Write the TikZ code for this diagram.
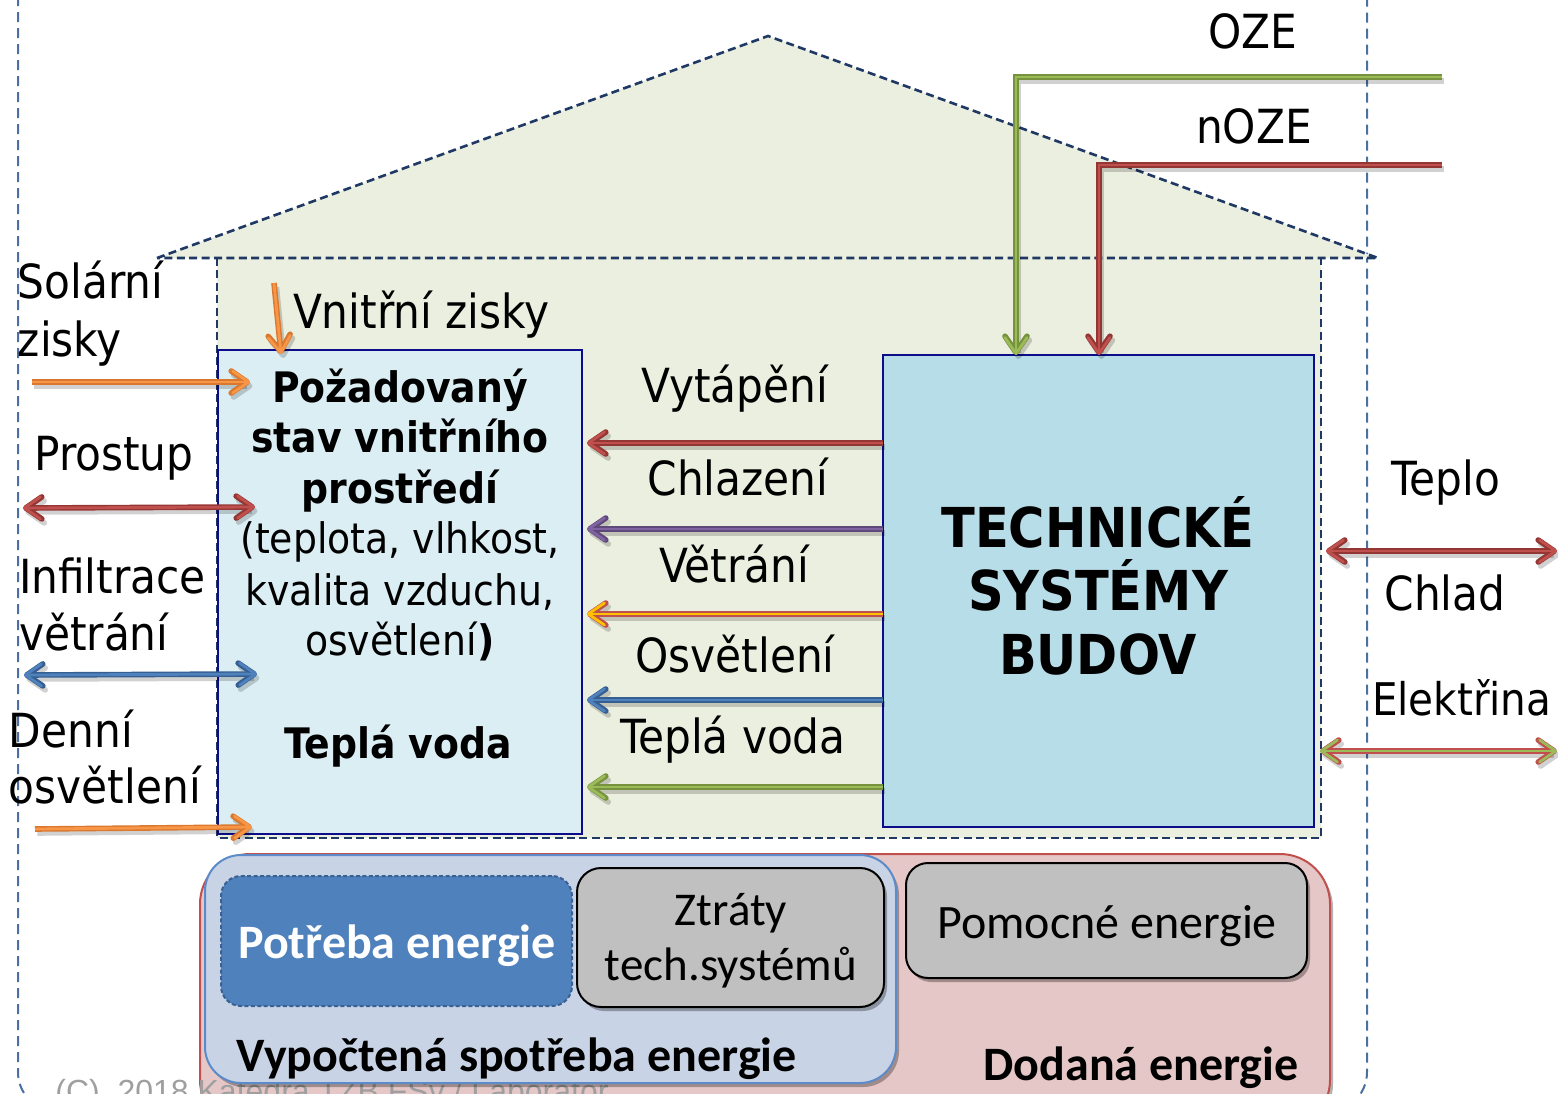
\documentclass[tikz,border=0pt]{standalone}
\usepackage{fontspec}
\setmainfont{DejaVu Sans Condensed}
\newfontfamily\calfont{Carlito}
\newfontfamily\arialfont{Liberation Sans}
\usetikzlibrary{arrows.meta,shadows}

\definecolor{housefill}{HTML}{EBEFDF}
\definecolor{navy}{HTML}{1F3864}
\definecolor{frameblue}{HTML}{4A6FA0}
\definecolor{roomfill}{HTML}{DBEEF4}
\definecolor{roomedge}{HTML}{0D0D8C}
\definecolor{tsbfill}{HTML}{B7DDE8}
\definecolor{cred}{HTML}{C0504D}
\definecolor{credD}{HTML}{943634}
\definecolor{cgreen}{HTML}{9BBB59}
\definecolor{cgreenD}{HTML}{76923C}
\definecolor{cblue}{HTML}{4F81BD}
\definecolor{cblueD}{HTML}{365F91}
\definecolor{cpurple}{HTML}{8064A2}
\definecolor{cpurpleD}{HTML}{5F497A}
\definecolor{corange}{HTML}{F79646}
\definecolor{corangeD}{HTML}{D9782E}
\definecolor{cyellow}{HTML}{FFC000}
\definecolor{calcfill}{HTML}{C9D3E6}
\definecolor{calcedge}{HTML}{5B8BC9}
\definecolor{delfill}{HTML}{E6C7C7}
\definecolor{boxgray}{HTML}{C0C0C0}
\definecolor{needfill}{HTML}{4F81BD}
\definecolor{neededge}{HTML}{3A6192}

% a thick energy-flow arrow: fill colour, edge colour, tips, path
\newcommand\flowpath[4]{%
  \draw[flowshadow,#3] #4;
  \draw[line width=2.8pt,draw=#2,#3] #4;
  \draw[line width=1.4pt,draw=#1,#3] #4;
}

\tikzset{
  flowshadow/.style={line width=2.8pt, draw=black, opacity=0.18,
    transform canvas={xshift=1.2pt,yshift=-2pt}},
  lab/.style={font=\fontsize{23.5pt}{28pt}\selectfont, inner sep=0pt, outer sep=0pt},
  roomtxt/.style={font=\fontsize{21pt}{25pt}\selectfont, inner sep=0pt, anchor=base},
  roombold/.style={font=\bfseries\fontsize{21pt}{25pt}\selectfont, inner sep=0pt, anchor=base},
  tsbtxt/.style={font=\bfseries\fontsize{27.5pt}{32pt}\selectfont, inner sep=0pt, anchor=base},
  box/.style={inner sep=0pt, outer sep=0pt},
  softshadow/.style={drop shadow={shadow xshift=1.5pt, shadow yshift=-2pt, opacity=0.3, fill=black}},
  grayblock/.style={box, fill=boxgray, draw=black, line width=1pt, softshadow,
    font=\calfont\fontsize{23.5pt}{28pt}\selectfont, align=center},
}

\begin{document}
\begin{tikzpicture}[x=0.5pt,y=-0.5pt,
  >={Straight Barb[length=8pt,width=11pt,round]}]
\useasboundingbox (0,0) rectangle (1558,1093);
\clip (0,0) rectangle (1558,1093);

% outer dashed frame
\draw[frameblue, line width=1pt, dash pattern=on 5pt off 3pt, rounded corners=20pt]
  (18,-60) rectangle (1367,1112);

% house: roof and body
\fill[housefill] (157,258) -- (768,36) -- (1378,258) -- cycle;
\fill[housefill] (217,258) rectangle (1321,838);
\draw[navy, line width=1.3pt, dash pattern=on 4pt off 2.2pt]
  (157,258) -- (768,36) -- (1378,258) -- cycle;
\draw[navy, line width=1.3pt, dash pattern=on 4pt off 2.2pt]
  (217,258) -- (217,838) -- (1321,838) -- (1321,258);

% room and technical systems boxes
\node[box, fill=roomfill, draw=roomedge, line width=1pt,
  minimum width=182pt, minimum height=242pt] (room) at (400,592) {};
\node[box, fill=tsbfill, draw=roomedge, line width=1pt,
  minimum width=215.5pt, minimum height=236pt] (tsb) at (1098.5,591) {};

% room text
\node[roombold] (r1) at (400,402) {Požadovaný};
\node[roombold] (r2) at (400,452) {stav vnitřního};
\node[roombold] (r3) at (400,503) {prostředí};
\node[roomtxt] (r4) at (400,553) {(teplota, vlhkost,};
\node[roomtxt] (r5) at (400,605) {kvalita vzduchu,};
\node[roomtxt] (r6) at (400,655) {osvětlení\textbf{)}};
\node[roombold] (r7) at (398,758) {Teplá voda};

% technical systems text
\node[tsbtxt] (t1) at (1098,547) {TECHNICKÉ};
\node[tsbtxt] (t2) at (1098,610) {SYSTÉMY};
\node[tsbtxt] (t3) at (1098,674) {BUDOV};

% flow end points
\coordinate (h1s) at (883,443); \coordinate (h1e) at (587,443);
\coordinate (h2s) at (883,529); \coordinate (h2e) at (587,529);
\coordinate (h3s) at (883,614); \coordinate (h3e) at (587,614);
\coordinate (h4s) at (883,700); \coordinate (h4e) at (587,700);
\coordinate (h5s) at (883,787); \coordinate (h5e) at (587,787);
\coordinate (sol) at (32,382);   \coordinate (sole) at (250,382);
\coordinate (vz) at (274,283);   \coordinate (vze) at (281,354);
\coordinate (pr) at (23,508);    \coordinate (pre) at (255,507);
\coordinate (inf) at (24,675);   \coordinate (infe) at (257,674);
\coordinate (dn) at (35,829);    \coordinate (dne) at (252,827);
\coordinate (tc) at (1326,551);  \coordinate (tce) at (1557,551);
\coordinate (el) at (1320,751);  \coordinate (ele) at (1557,751);
\coordinate (oze) at (1442,77);  \coordinate (ozee) at (1016,355);
\coordinate (noze) at (1442,165);\coordinate (nozee) at (1099,355);

% flows from the technical systems into the room
\flowpath{cred}{credD}{->}{(h1s) -- (h1e)}
\flowpath{cpurple}{cpurpleD}{->}{(h2s) -- (h2e)}
\flowpath{cyellow}{cred}{->}{(h3s) -- (h3e)}
\flowpath{cblue}{cblueD}{->}{(h4s) -- (h4e)}
\flowpath{cgreen}{cgreenD}{->}{(h5s) -- (h5e)}

% flows across the envelope
\flowpath{corange}{corangeD}{->}{(sol) -- (sole)}
\flowpath{corange}{corangeD}{->}{(vz) -- (vze)}
\flowpath{cred}{credD}{<->}{(pr) -- (pre)}
\flowpath{cblue}{cblueD}{<->}{(inf) -- (infe)}
\flowpath{corange}{corangeD}{->}{(dn) -- (dne)}
\flowpath{cred}{credD}{<->}{(tc) -- (tce)}
\flowpath{cgreen}{cred}{<->}{(el) -- (ele)}

% supplied energy carriers
\flowpath{cgreen}{cgreenD}{->}{(oze) -| (ozee)}
\flowpath{cred}{credD}{->}{(noze) -| (nozee)}

% labels
\node[lab, anchor=base] (lOZE) at (1253,48) {OZE};
\node[lab, anchor=base] (lnOZE) at (1254,143) {nOZE};
\node[lab, anchor=base west] (lsol1) at (18,298) {Solární};
\node[lab, anchor=base west] (lsol2) at (18,356) {zisky};
\node[lab, anchor=base west] (lvz) at (293,328) {Vnitřní zisky};
\node[lab, anchor=base] (lpr) at (114,470) {Prostup};
\node[lab, anchor=base west] (linf1) at (19,593) {Infiltrace};
\node[lab, anchor=base west] (linf2) at (19,650) {větrání};
\node[lab, anchor=base west] (ldn1) at (9,747) {Denní};
\node[lab, anchor=base west] (ldn2) at (9,803) {osvětlení};
\node[lab, anchor=base] (lvyt) at (735,402) {Vytápění};
\node[lab, anchor=base] (lchl) at (738,495) {Chlazení};
\node[lab, anchor=base] (lvet) at (734,582) {Větrání};
\node[lab, anchor=base] (losv) at (735,672) {Osvětlení};
\node[lab, anchor=base] (ltv) at (733,753) {Teplá voda};
\node[lab, anchor=base] (ltep) at (1446,495) {Teplo};
\node[lab, anchor=base] (lchd) at (1445,610) {Chlad};
\node[lab, anchor=base west, font=\fontsize{22.5pt}{27pt}\selectfont]
  (lel) at (1372,715) {Elektřina};

% energy balance blocks
\node[box, fill=delfill, draw=cred, line width=1pt, rounded corners=25pt, softshadow,
  minimum width=565pt, minimum height=138pt] (deliv) at (765,992) {};
\node[anchor=base west, inner sep=0pt, text=gray!75,
  font=\arialfont\fontsize{16pt}{16pt}\selectfont] (copy) at (55,1102)
  {(C)\ \ 2018 Katedra TZB FSv / Laboratoř};
\node[box, fill=calcfill, draw=calcedge, line width=1pt, rounded corners=18pt, softshadow,
  minimum width=345.5pt, minimum height=114pt] (calc) at (550.5,969) {};
\node[box, fill=needfill, draw=neededge, line width=1pt, dash pattern=on 2pt off 1.2pt,
  rounded corners=10pt, minimum width=175.5pt, minimum height=65pt] (need) at (396.5,941) {};
\node[anchor=base, inner sep=0pt, text=white,
  font=\calfont\bfseries\fontsize{24pt}{28pt}\selectfont] (needtxt) at (397,958)
  {Potřeba energie};
\node[grayblock, rounded corners=12pt, minimum width=153.5pt, minimum height=69.5pt]
  (loss) at (730.5,937.5) {};
\node[anchor=base, inner sep=0pt, font=\calfont\fontsize{23.5pt}{28pt}\selectfont]
  (loss1) at (731,925) {Ztráty};
\node[anchor=base, inner sep=0pt, font=\calfont\fontsize{23.5pt}{28pt}\selectfont]
  (loss2) at (731,980) {tech.systémů};
\node[grayblock, rounded corners=11pt, minimum width=200.5pt, minimum height=57.5pt]
  (aux) at (1106.5,920.5) {};
\node[anchor=base, inner sep=0pt, font=\calfont\fontsize{24pt}{28pt}\selectfont]
  (auxtxt) at (1107,938) {Pomocné energie};
\node[anchor=base west, inner sep=0pt, font=\calfont\bfseries\fontsize{24pt}{28pt}\selectfont]
  (lcalc) at (236,1071) {Vypočtená spotřeba energie};
\node[anchor=base, inner sep=0pt, font=\calfont\bfseries\fontsize{24pt}{28pt}\selectfont]
  (ldel) at (1141,1080) {Dodaná energie};
\end{tikzpicture}
\end{document}
